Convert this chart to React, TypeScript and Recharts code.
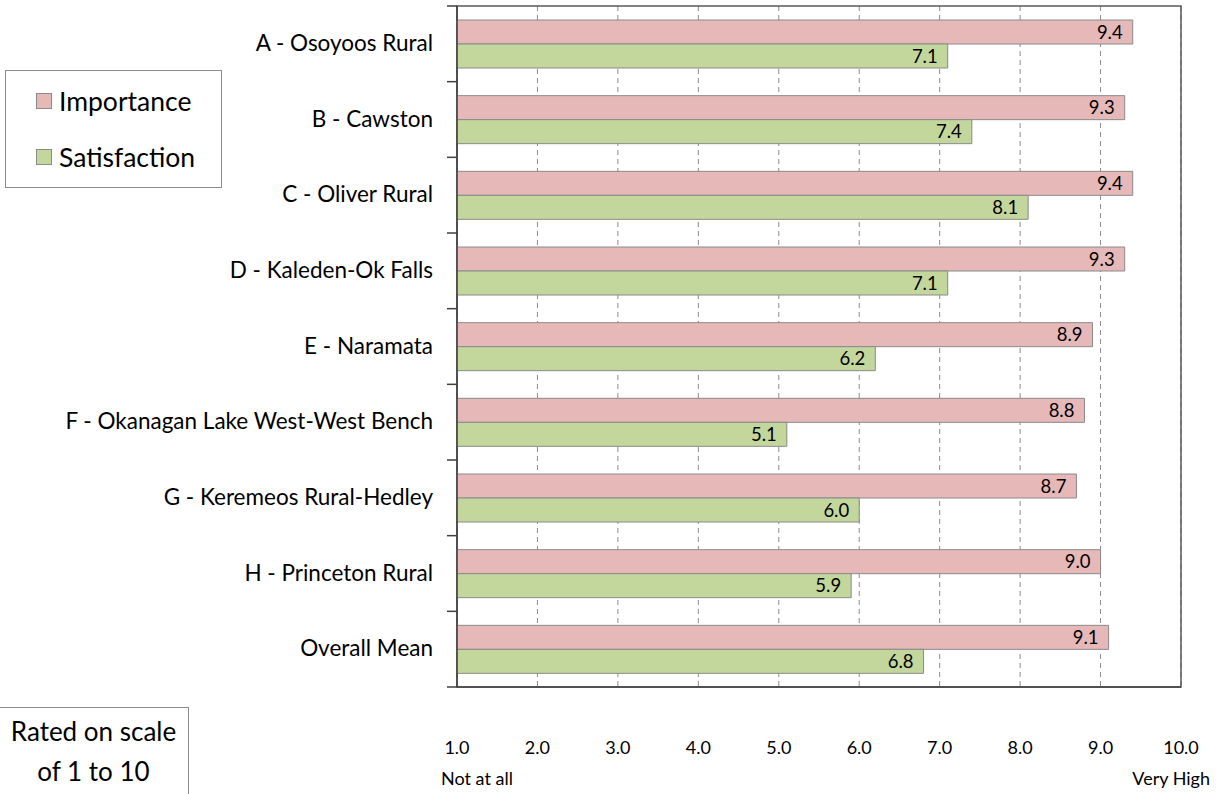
import { BarChart, Bar, XAxis, YAxis, CartesianGrid, ReferenceArea, LabelList } from 'recharts';

const categories = [
  'A - Osoyoos Rural',
  'B - Cawston',
  'C - Oliver Rural',
  'D - Kaleden-Ok Falls',
  'E - Naramata',
  'F - Okanagan Lake West-West Bench',
  'G - Keremeos Rural-Hedley',
  'H - Princeton Rural',
  'Overall Mean',
];
const importance = [9.4, 9.3, 9.4, 9.3, 8.9, 8.8, 8.7, 9.0, 9.1];
const satisfaction = [7.1, 7.4, 8.1, 7.1, 6.2, 5.1, 6.0, 5.9, 6.8];
const xTicks = [1, 2, 3, 4, 5, 6, 7, 8, 9, 10];
const xNotes: Record<number, string> = { 1: 'Not at all', 10: 'Very High' };

const data = categories.map((name, i) => ({
  name,
  importance: importance[i],
  satisfaction: satisfaction[i],
}));

const FONT = 'Lato, "Open Sans", sans-serif';
const PINK = '#e6b9b8';
const GREEN = '#c3d69b';
const W = 1220;
const H = 794;
const MARGIN = { top: 6, right: 39, bottom: 47, left: 0 };
const X_AXIS_H = 60;
const Y_AXIS_W = 457;
const TICK_MARGIN = 14;
const TICK_SIZE = 10;
const HALF_BAND = (H - MARGIN.top - MARGIN.bottom - X_AXIS_H) / categories.length / 2;

// category label plus tick marks on the category boundaries
function CategoryTick(props: any) {
  const { x, y, payload, index } = props;
  const lx1 = x + TICK_MARGIN;
  const lx2 = lx1 + TICK_SIZE;
  return (
    <g>
      <line x1={lx1} x2={lx2} y1={y - HALF_BAND} y2={y - HALF_BAND} stroke="#404040" strokeWidth={1.5} />
      {index === categories.length - 1 && (
        <line x1={lx1} x2={lx2} y1={y + HALF_BAND} y2={y + HALF_BAND} stroke="#404040" strokeWidth={1.5} />
      )}
      <text x={x} y={y} dy={7} textAnchor="end" fontSize={22.5} fill="#000" fontFamily={FONT}>
        {payload.value}
      </text>
    </g>
  );
}

function XTick(props: any) {
  const { x, y, payload } = props;
  const note = xNotes[payload.value];
  return (
    <g fontFamily={FONT} fill="#000">
      <text x={x} y={y + 59} textAnchor="middle" fontSize={18}>
        {payload.value.toFixed(1)}
      </text>
      {note && (
        <text
          x={payload.value === 1 ? x - 16 : x + 29}
          y={y + 90}
          textAnchor={payload.value === 1 ? 'start' : 'end'}
          fontSize={18}
        >
          {note}
        </text>
      )}
    </g>
  );
}

export default function App() {
  return (
    <div
      style={{
        position: 'absolute',
        left: 0,
        top: 0,
        width: W,
        height: H,
        background: '#fff',
        fontFamily: FONT,
        overflow: 'hidden',
      }}
    >
      <BarChart
        layout="vertical"
        width={W}
        height={H}
        data={data}
        margin={MARGIN}
        barGap={0}
        barSize={24}
      >
        <CartesianGrid horizontal={false} stroke="#8c8c8c" strokeDasharray="5 4" />
        <XAxis
          type="number"
          domain={[1, 10]}
          ticks={xTicks}
          interval={0}
          height={X_AXIS_H}
          tickLine={false}
          axisLine={{ stroke: '#404040', strokeWidth: 1.5 }}
          tick={<XTick />}
        />
        <YAxis
          type="category"
          dataKey="name"
          width={Y_AXIS_W}
          interval={0}
          tickLine={false}
          tickSize={TICK_SIZE}
          tickMargin={TICK_MARGIN}
          axisLine={{ stroke: '#404040', strokeWidth: 1.5 }}
          tick={<CategoryTick />}
        />
        <ReferenceArea x1={1} x2={10} fill="none" stroke="#595959" strokeWidth={1.5} ifOverflow="visible" />
        <Bar dataKey="importance" fill={PINK} stroke="#8a8a8a" isAnimationActive={false}>
          <LabelList
            dataKey="importance"
            position="insideRight"
            offset={10}
            fill="#000"
            fontSize={18.5}
            fontFamily={FONT}
            formatter={(v: any) => Number(v).toFixed(1)}
          />
        </Bar>
        <Bar dataKey="satisfaction" fill={GREEN} stroke="#8a8a8a" isAnimationActive={false}>
          <LabelList
            dataKey="satisfaction"
            position="insideRight"
            offset={10}
            fill="#000"
            fontSize={18.5}
            fontFamily={FONT}
            formatter={(v: any) => Number(v).toFixed(1)}
          />
        </Bar>
      </BarChart>

      {/* legend */}
      <div
        style={{
          position: 'absolute',
          left: 5,
          top: 70,
          width: 215,
          height: 116,
          border: '1px solid #8c8c8c',
          fontSize: 26.5,
          color: '#000',
        }}
      >
        {[
          { label: 'Importance', color: PINK, top: 14 },
          { label: 'Satisfaction', color: GREEN, top: 70 },
        ].map((item) => (
          <div
            key={item.label}
            style={{ position: 'absolute', left: 30, top: item.top, display: 'flex', alignItems: 'center' }}
          >
            <div
              style={{
                width: 14,
                height: 14,
                background: item.color,
                border: '1px solid #8a8a8a',
                marginRight: 7,
              }}
            />
            <span>{item.label}</span>
          </div>
        ))}
      </div>

      {/* scale note */}
      <div
        style={{
          position: 'absolute',
          left: -2,
          top: 707,
          width: 191,
          height: 100,
          border: '1px solid #8c8c8c',
          fontSize: 26,
          lineHeight: '40px',
          textAlign: 'center',
          color: '#000',
          paddingTop: 3,
          boxSizing: 'border-box',
        }}
      >
        Rated on scale
        <br />
        of 1 to 10
      </div>
    </div>
  );
}
